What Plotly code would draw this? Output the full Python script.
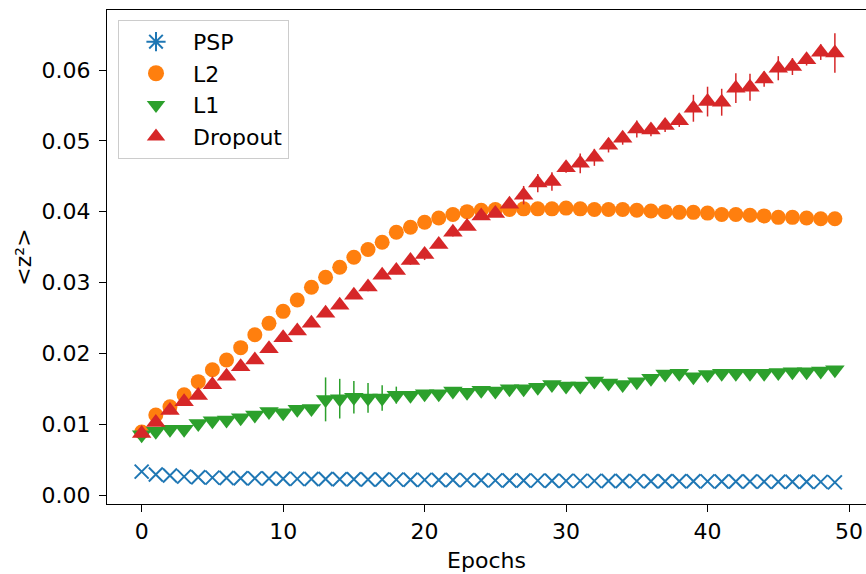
import plotly.graph_objects as go

# epochs on the x axis
epochs = list(range(50))

# mean <z^2> per epoch
psp = [0.0033, 0.0029, 0.00275, 0.0026, 0.0025, 0.00245, 0.0024, 0.00237, 0.00235, 0.00233,
       0.0023, 0.00228, 0.00226, 0.00225, 0.00223, 0.00222, 0.0022, 0.00218, 0.00217, 0.00215,
       0.00214, 0.00212, 0.00211, 0.0021, 0.00208, 0.00207, 0.00205, 0.00204, 0.00203, 0.00202,
       0.002, 0.002, 0.00199, 0.00198, 0.00197, 0.00196, 0.00195, 0.00195, 0.00194, 0.00193,
       0.00192, 0.00191, 0.0019, 0.0019, 0.00189, 0.00188, 0.00187, 0.00186, 0.00185, 0.00178]
l2 = [0.0089, 0.0113, 0.01245, 0.01414, 0.016, 0.01768, 0.01905, 0.0208, 0.02263, 0.02423,
      0.02593, 0.02754, 0.02932, 0.03074, 0.03215, 0.03357, 0.03465, 0.03569, 0.0371, 0.0378,
      0.0385, 0.0391, 0.0396, 0.0400, 0.0402, 0.0403, 0.0403, 0.0404, 0.0404, 0.0404,
      0.0405, 0.0404, 0.0403, 0.0403, 0.0403, 0.0402, 0.0401, 0.0400, 0.0399, 0.0399,
      0.0398, 0.0396, 0.0396, 0.0395, 0.0394, 0.0392, 0.0392, 0.0391, 0.039, 0.039]
l1 = [0.0085, 0.009, 0.0093, 0.0093, 0.0101, 0.0105, 0.0106, 0.0109, 0.0113, 0.0118,
      0.0116, 0.0121, 0.0122, 0.0135, 0.0136, 0.0138, 0.0137, 0.0137, 0.0141, 0.0141,
      0.0143, 0.0143, 0.0147, 0.0145, 0.0148, 0.0147, 0.015, 0.015, 0.0152, 0.0156,
      0.0154, 0.0154, 0.0161, 0.0158, 0.0156, 0.016, 0.0165, 0.0171, 0.0172, 0.0167,
      0.017, 0.0172, 0.0172, 0.0172, 0.0172, 0.0173, 0.0174, 0.0174, 0.0175, 0.0177]
dropout = [0.00867, 0.01023, 0.01193, 0.01318, 0.01405, 0.01556, 0.01676, 0.0181, 0.01905, 0.02065,
           0.0222, 0.02315, 0.02423, 0.02565, 0.02678, 0.0282, 0.02937, 0.03102, 0.03168, 0.0331,
           0.03397, 0.03538, 0.0371, 0.0379, 0.0394, 0.03975, 0.04106, 0.04233, 0.04403, 0.04427,
           0.0462, 0.04682, 0.04767, 0.04936, 0.05035, 0.05167, 0.05153, 0.05215, 0.05285, 0.0546,
           0.05554, 0.05545, 0.05743, 0.05757, 0.05874, 0.06025, 0.06049, 0.06143, 0.06252, 0.0624]

# error bar half-widths
psp_err = [0.0001] * 50
l2_err = [0.0003, 0.0003, 0.0003, 0.0002, 0.0002, 0.0003, 0.0002, 0.0004, 0.0003, 0.0002,
          0.0002, 0.0002, 0.0002, 0.0002, 0.0002, 0.0002, 0.0002, 0.0002, 0.0002, 0.0002,
          0.0002, 0.0002, 0.0002, 0.0002, 0.0002, 0.0002, 0.0002, 0.0002, 0.0002, 0.0002,
          0.0002, 0.0002, 0.0002, 0.0002, 0.0002, 0.0002, 0.0002, 0.0002, 0.0002, 0.0002,
          0.0002, 0.0002, 0.0002, 0.0002, 0.0002, 0.0002, 0.0002, 0.0002, 0.0002, 0.0002]
l1_err = [0.0008, 0.0003, 0.0003, 0.0003, 0.0003, 0.0003, 0.0003, 0.0003, 0.0003, 0.0003,
          0.0003, 0.0003, 0.0003, 0.0031, 0.0028, 0.0023, 0.0021, 0.0018, 0.0012, 0.0005,
          0.0004, 0.0003, 0.0003, 0.0003, 0.0003, 0.0003, 0.0003, 0.0003, 0.0003, 0.0003,
          0.0003, 0.0003, 0.0003, 0.0003, 0.0003, 0.0003, 0.0003, 0.0003, 0.0003, 0.0003,
          0.0003, 0.0003, 0.0003, 0.0003, 0.0003, 0.0003, 0.0003, 0.0003, 0.0003, 0.0005]
dropout_err = [0.0002, 0.0003, 0.0003, 0.0003, 0.0003, 0.0003, 0.0003, 0.0003, 0.0003, 0.0004,
               0.0004, 0.0004, 0.0005, 0.0005, 0.0005, 0.0005, 0.0006, 0.0005, 0.0005, 0.0006,
               0.0008, 0.0004, 0.0006, 0.0004, 0.0005, 0.0005, 0.0003, 0.0013, 0.0013, 0.0013,
               0.0007, 0.0014, 0.0012, 0.001, 0.0009, 0.0012, 0.0009, 0.0009, 0.0009, 0.0019,
               0.0021, 0.0019, 0.0021, 0.0019, 0.0011, 0.0017, 0.0012, 0.0008, 0.0011, 0.0028]

series = [
    ("PSP", psp, psp_err, "#1f77b4", "x-thin-open", 14, "asterisk-open"),
    ("L2", l2, l2_err, "#ff7f0e", "circle", 15, "circle"),
    ("L1", l1, l1_err, "#2ca02c", "triangle-down", 17, "triangle-down"),
    ("Dropout", dropout, dropout_err, "#d62728", "triangle-up", 17, "triangle-up"),
]

FONT = "DejaVu Sans"

fig = go.Figure()
for rank, (name, vals, err, color, sym, size, legsym) in enumerate(series):
    if sym == "x-thin-open":
        marker = dict(symbol=sym, size=size, color=color, line=dict(color=color, width=2))
        legmarker = dict(symbol=legsym, size=16, color=color, line=dict(color=color, width=2))
    else:
        marker = dict(symbol=sym, size=size, color=color, line=dict(width=0))
        legmarker = dict(symbol=legsym, size=16, color=color, line=dict(width=0))
    fig.add_trace(go.Scatter(
        x=epochs, y=vals, mode="markers", name=name, showlegend=False,
        marker=marker,
        error_y=dict(type="data", array=err, visible=True, color=color, thickness=1.5, width=0),
    ))
    # legend entry
    fig.add_trace(go.Scatter(
        x=[None], y=[None], mode="markers", name=name, legendrank=rank + 1,
        marker=legmarker,
    ))

fig.update_layout(
    width=866, height=574,
    margin=dict(l=107, r=0, t=10, b=70),
    paper_bgcolor="white", plot_bgcolor="white",
    font=dict(family=FONT, size=22, color="black"),
    legend=dict(
        x=0.0145, y=0.98, xanchor="left", yanchor="top",
        bgcolor="rgba(255,255,255,0.8)", bordercolor="#cccccc", borderwidth=1,
        font=dict(family=FONT, size=22), itemwidth=64, tracegroupgap=0,
    ),
)
fig.update_xaxes(
    range=[-2.45, 51.2], tickvals=[0, 10, 20, 30, 40, 50],
    showgrid=False, zeroline=False, automargin=False,
    showline=True, linecolor="black", linewidth=1.3, mirror=True,
    ticks="outside", ticklen=7, tickwidth=1.3, tickcolor="black",
    title=dict(text="Epochs", standoff=10, font=dict(size=22)),
)
fig.update_yaxes(
    range=[-0.00127, 0.06847], tickvals=[0, 0.01, 0.02, 0.03, 0.04, 0.05, 0.06],
    tickformat=".2f", automargin=False,
    showgrid=False, zeroline=False,
    showline=True, linecolor="black", linewidth=1.3,
    ticks="outside", ticklen=7, tickwidth=1.3, tickcolor="black",
    ticklabelstandoff=4,
    title=dict(text="&lt;z²&gt;", standoff=3, font=dict(size=22)),
)

# drop the default 8px page margin so the figure fills the window
fig.write_html("out.html", config={"displayModeBar": False},
               post_script="document.body.style.margin='0';document.body.style.overflow='hidden';")
